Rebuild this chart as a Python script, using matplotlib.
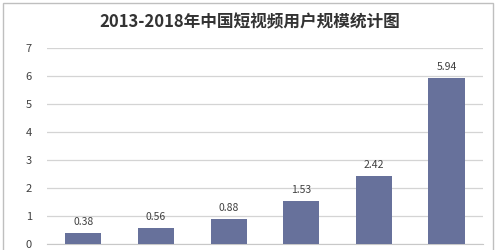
import matplotlib.pyplot as plt
from matplotlib.patches import Rectangle

plt.rcParams["font.family"] = ["Noto Sans CJK SC", "DejaVu Sans"]

TITLE = "2013-2018年中国短视频用户规模统计图"
YEARS = ["2013", "2014", "2015", "2016", "2017", "2018"]
USERS = [0.38, 0.56, 0.88, 1.53, 2.42, 5.94]
Y_TICKS = [0, 1, 2, 3, 4, 5, 6, 7]

BAR_COLOR = "#67719b"
GRID_COLOR = "#d4d4d4"
TEXT_COLOR = "#404040"


def main() -> None:
    fig = plt.figure(figsize=(4.99, 2.5), dpi=100)
    fig.patch.set_facecolor("white")

    # Outer chart frame (bottom edge runs off the crop).
    fig.patches.append(Rectangle(
        (3 / 499, -0.1), 490 / 499, 1.1 - 3 / 250,
        transform=fig.transFigure, fill=False, edgecolor="#bfbfbf", linewidth=1.0,
    ))

    ax = fig.add_axes([47 / 499, 1 - 244 / 250, 436 / 499, 196 / 250])
    x = list(range(len(YEARS)))
    ax.bar(x, USERS, width=0.5, color=BAR_COLOR, zorder=3)
    for xi, v in zip(x, USERS):
        ax.annotate(f"{v:.2f}", (xi, v), xytext=(0, 8), textcoords="offset points",
                    ha="center", va="center", fontsize=7.5, color=TEXT_COLOR)

    ax.set_xlim(-0.5, len(YEARS) - 0.5)
    ax.set_ylim(0, 7)
    ax.set_yticks(Y_TICKS)
    ax.set_yticklabels([str(t) for t in Y_TICKS], fontsize=8, color=TEXT_COLOR)
    # Year labels sit below the cropped edge in the reference, so hide them.
    ax.set_xticks(x)
    ax.set_xticklabels(YEARS)
    ax.tick_params(axis="x", length=0, labelbottom=False)
    ax.tick_params(axis="y", length=0, pad=11)
    ax.grid(axis="y", color=GRID_COLOR, linewidth=0.9, zorder=0)
    for side in ("top", "right", "left"):
        ax.spines[side].set_visible(False)
    ax.spines["bottom"].set_color("#c8c8c8")

    fig.text(0.5, 1 - 22 / 250, TITLE, ha="center", va="center",
             fontsize=12, fontweight="bold", color="#333333")

    fig.savefig("out.png", dpi=100)
    plt.close(fig)


if __name__ == "__main__":
    main()
